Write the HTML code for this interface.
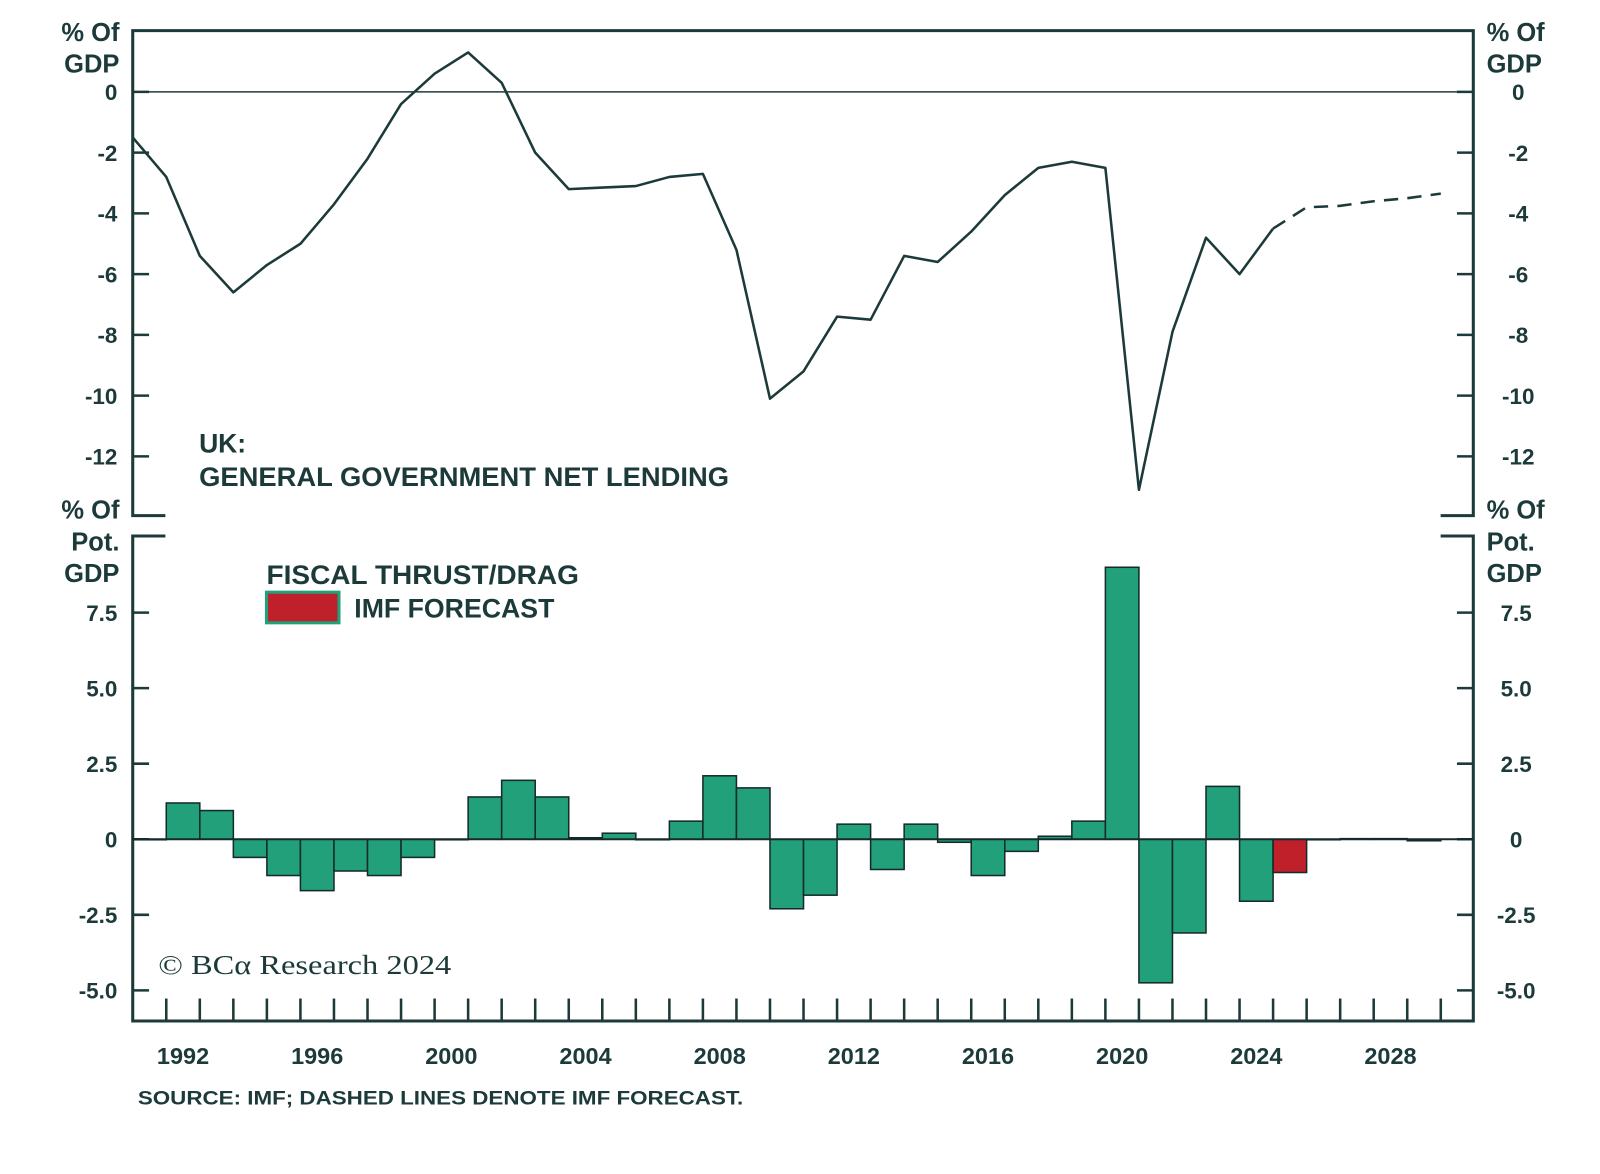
<!DOCTYPE html>
<html><head><meta charset="utf-8"><style>
html,body{margin:0;padding:0;background:#fff;}
svg{display:block;}
text{font-family:"Liberation Sans",sans-serif;fill:#1d3a3a;font-weight:bold;}
</style></head><body>
<svg id="chart" width="1600" height="1174" viewBox="0 0 1600 1174" xmlns="http://www.w3.org/2000/svg">
<g transform="scale(1.021)">
<g id="topPanel"></g>
<g id="botPanel"></g>
<text x="195" y="443" font-size="26" textLength="46">UK:</text>
<text x="195" y="476" font-size="26" textLength="519" lengthAdjust="spacingAndGlyphs">GENERAL GOVERNMENT NET LENDING</text>
<text x="261" y="572" font-size="26" textLength="306" lengthAdjust="spacingAndGlyphs">FISCAL THRUST/DRAG</text>
<rect x="261" y="580" width="71" height="30" fill="#c0202a" stroke="#21a07a" stroke-width="3"/>
<text x="347" y="605" font-size="26" textLength="196" lengthAdjust="spacingAndGlyphs">IMF FORECAST</text>
<text x="155" y="954" font-size="27" textLength="287" lengthAdjust="spacingAndGlyphs" style="font-family:'Liberation Serif',serif;font-weight:normal">© BCα Research 2024</text>
<text x="135" y="1082" font-size="19" textLength="593" lengthAdjust="spacingAndGlyphs">SOURCE: IMF; DASHED LINES DENOTE IMF FORECAST.</text>
</g>
</svg>
<script>
const lineYears=[1991,1992,1993,1994,1995,1996,1997,1998,1999,2000,2001,2002,2003,2004,2005,2006,2007,2008,2009,2010,2011,2012,2013,2014,2015,2016,2017,2018,2019,2020,2021,2022,2023,2024,2025];
const lineValues=[-1.5,-2.8,-5.4,-6.6,-5.7,-5.0,-3.7,-2.2,-0.4,0.6,1.3,0.3,-2.0,-3.2,-3.15,-3.1,-2.8,-2.7,-5.2,-10.1,-9.2,-7.4,-7.5,-5.4,-5.6,-4.6,-3.4,-2.5,-2.3,-2.5,-13.1,-7.9,-4.8,-6.0,-4.5];
const forecastYears=[2025,2026,2027,2028,2029,2030];
const forecastValues=[-4.5,-3.8,-3.75,-3.6,-3.5,-3.35];
const barYears=[1991,1992,1993,1994,1995,1996,1997,1998,1999,2000,2001,2002,2003,2004,2005,2006,2007,2008,2009,2010,2011,2012,2013,2014,2015,2016,2017,2018,2019,2020,2021,2022,2023,2024,2025,2026,2027,2028,2029];
const barValues=[0,1.2,0.95,-0.6,-1.2,-1.7,-1.05,-1.2,-0.6,0,1.4,1.95,1.4,0.05,0.2,0,0.6,2.1,1.7,-2.3,-1.85,0.5,-1.0,0.5,-0.1,-1.2,-0.4,0.1,0.6,9.0,-4.75,-3.1,1.75,-2.05,-1.1,0,0.02,0.02,-0.05];
const forecastBarYears=[2025];
const topTicks=[0,-2,-4,-6,-8,-10,-12];
const botTicks=[7.5,5.0,2.5,0,-2.5,-5.0];
const botTickLabels=['7.5','5.0','2.5','0','-2.5','-5.0'];
const xLabels=[1992,1996,2000,2004,2008,2012,2016,2020,2024,2028];

(function(){
const NS='http://www.w3.org/2000/svg';
const C='#1d3a3a';
const L=130,R=1443,W=32.85;
const xEdge=y=>L+(y-1991)*W;
const yTop=v=>90-v*29.75;
const yBot=v=>822-v*29.6;
function mk(p,tag,a){const e=document.createElementNS(NS,tag);for(const k in a)e.setAttribute(k,a[k]);p.appendChild(e);return e;}
const tp=document.getElementById('topPanel'),bp=document.getElementById('botPanel');
let e;
e=mk(tp,'path',{d:`M${L+32},505 H${L} V30 H${R} V505 H${R-32}`,fill:'none',stroke:C,'stroke-width':3});


e=mk(tp,'line',{x1:L,x2:R,y1:yTop(0),y2:yTop(0),stroke:C,'stroke-width':1.5});


topTicks.forEach(v=>{
  const y=yTop(v);
  e=mk(tp,'line',{x1:L,x2:L+16,y1:y,y2:y,stroke:C,'stroke-width':2.5});
  
  
  e=mk(tp,'line',{x1:R-16,x2:R,y1:y,y2:y,stroke:C,'stroke-width':2.5});
  
  
  e=mk(tp,'text',{x:115,y:y+8,'font-size':22,'text-anchor':'end'});e.textContent=String(v);
  
  
  e=mk(tp,'text',{x:1487,y:y+8,'font-size':22,'text-anchor':'middle'});e.textContent=String(v);
  
  
});
[['% Of',40],['GDP',71]].forEach(([t,y])=>{
  e=mk(tp,'text',{x:117,y:y,'font-size':25,'text-anchor':'end'});e.textContent=t;
  
  
  e=mk(tp,'text',{x:1456,y:y,'font-size':25});e.textContent=t;
  
  
});
e=mk(tp,'polyline',{points:lineYears.map((y,i)=>xEdge(y)+','+yTop(lineValues[i])).join(' '),fill:'none',stroke:C,'stroke-width':2.5,'stroke-linejoin':'round'});


e=mk(tp,'polyline',{points:forecastYears.map((y,i)=>xEdge(y)+','+yTop(forecastValues[i])).join(' '),fill:'none',stroke:C,'stroke-width':2.5,'stroke-dasharray':'14,9'});



e=mk(bp,'path',{d:`M${L+32},525 H${L} V1000 H${R} V525 H${R-32}`,fill:'none',stroke:C,'stroke-width':3});


botTicks.forEach((v,i)=>{
  const y=yBot(v);
  e=mk(bp,'line',{x1:L,x2:L+16,y1:y,y2:y,stroke:C,'stroke-width':2.5});
  
  
  e=mk(bp,'line',{x1:R-16,x2:R,y1:y,y2:y,stroke:C,'stroke-width':2.5});
  
  
  e=mk(bp,'text',{x:115,y:y+8,'font-size':22,'text-anchor':'end'});e.textContent=botTickLabels[i];
  
  
  e=mk(bp,'text',{x:1485,y:y+8,'font-size':22,'text-anchor':'middle'});e.textContent=botTickLabels[i];
  
  
});
[['% Of',508],['Pot.',539],['GDP',570]].forEach(([t,y])=>{
  e=mk(bp,'text',{x:117,y:y,'font-size':25,'text-anchor':'end'});e.textContent=t;
  
  
  e=mk(bp,'text',{x:1456,y:y,'font-size':25});e.textContent=t;
  
  
});
for(let yr=1992;yr<=2030;yr++){
  e=mk(bp,'line',{x1:xEdge(yr),x2:xEdge(yr),y1:978,y2:1000,stroke:C,'stroke-width':2.5});
  
  
}
xLabels.forEach(yr=>{
  e=mk(bp,'text',{x:xEdge(yr)+W/2,y:1042,'font-size':23,'text-anchor':'middle'});e.textContent=String(yr);
  
  
});
barYears.forEach((yr,i)=>{
  const v=barValues[i];
  const y0=yBot(0),y1=yBot(v);
  const fc=forecastBarYears.includes(yr);
  e=mk(bp,'rect',{x:xEdge(yr),y:Math.min(y0,y1),width:W,height:Math.max(Math.abs(y1-y0),0.5),fill:fc?'#c0202a':'#21a07a',stroke:'#152a2a','stroke-width':1.5});
  
  
});
e=mk(bp,'line',{x1:L,x2:R,y1:yBot(0),y2:yBot(0),stroke:'#152a2a','stroke-width':2});


})();
</script>
</body></html>
